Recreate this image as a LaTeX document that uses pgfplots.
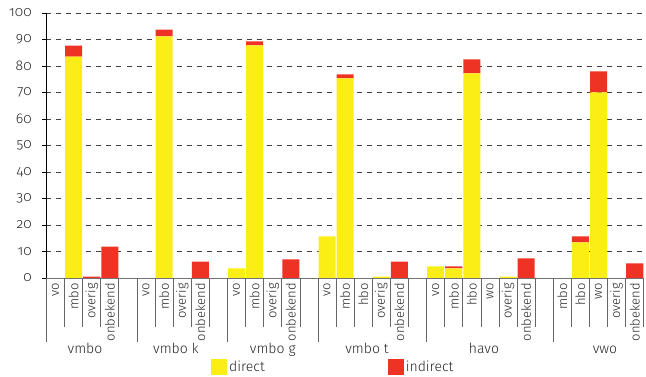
\documentclass[border=0pt]{standalone}
\usepackage{fontspec}
\setmainfont{Fira Sans Light}[Numbers=OldStyle]
\usepackage{pgfplots}
\pgfplotsset{compat=1.18}
\definecolor{myyellow}{RGB}{250,238,22}
\definecolor{myred}{RGB}{238,50,36}
\pgfplotstableread{
x direct indirect
0 0 0
1 83.5 4.2
2 0 0.5
3 0 11.8
5 0 0
6 91.2 2.5
7 0 0
8 0 6.2
10 3.6 0
11 87.8 1.5
12 0 0
13 0 7.0
15 15.7 0
16 75.3 1.5
17 0 0
18 0.5 0
19 0 6.2
21 4.4 0
22 3.6 0.8
23 77.2 5.3
24 0 0
25 0.5 0
26 0 7.4
28 0 0
29 13.4 2.3
30 70.0 8.0
31 0 0
32 0 5.5
}\datatable
\begin{document}
\fontsize{14}{16}\selectfont
\begin{tikzpicture}
\begin{axis}[
  scale only axis, width=597.3pt, height=265pt,
  at={(0,0)}, anchor=south west,
  xmin=-0.5, xmax=32.5, ymin=0, ymax=100,
  ybar stacked, bar width=0.94,
  axis lines*=left,
  y axis line style={black, line width=1.8pt},
  x axis line style={black!55, line width=0.8pt},
  ytick={0,10,...,100},
  ymajorgrids,
  grid style={black!75, dash pattern=on 5pt off 5pt, line width=0.7pt},
  ytick style={black, line width=0.7pt},
  major tick length=4pt, tick align=outside,
  yticklabel style={font=\fontsize{14}{16}\selectfont, text=black!85, xshift=-6pt},
  /pgf/number format/assume math mode=true,
  xtick={0,1,2,3,5,6,7,8,10,11,12,13,15,16,17,18,19,21,22,23,24,25,26,28,29,30,31,32},
  xticklabels={vo,mbo,overig,onbekend,vo,mbo,overig,onbekend,vo,mbo,overig,onbekend,vo,mbo,hbo,overig,onbekend,vo,mbo,hbo,wo,overig,onbekend,mbo,hbo,wo,overig,onbekend},
  xtick style={draw=none},
  xticklabel style={rotate=90, anchor=east, font=\fontsize{13}{15}\selectfont, text=black!85, inner sep=1pt, yshift=0pt},
  legend style={at={(0.2754,-0.305)}, anchor=north west, draw=none, fill=none, inner sep=0pt,
    font=\fontsize{14}{16}\selectfont, text=black!85,
    legend columns=2,
    /tikz/every even column/.append style={column sep=121pt},
    legend cell align=left},
  legend image code/.code={\fill[#1] (0pt,-8pt) rectangle (16pt,8pt);},
  clip=false,
]
\addplot[fill=myyellow, draw=none] table[x=x, y=direct] {\datatable};
\addlegendentry{direct}
\addplot[fill=myred, draw=none] table[x=x, y=indirect] {\datatable};
\addlegendentry{indirect}
\pgfplotsinvokeforeach{0.5,1.5,2.5,3.5,5.5,6.5,7.5,8.5,10.5,11.5,12.5,13.5,15.5,16.5,17.5,18.5,19.5,21.5,22.5,23.5,24.5,25.5,26.5,28.5,29.5,30.5,31.5,32.5}{
  \draw[black!60, line width=0.8pt] (axis cs:#1,0) -- ++(0pt,-49pt);
}
\pgfplotsinvokeforeach{-0.5,4.5,9.5,14.5,20.5,27.5}{
  \draw[black!60, line width=0.8pt] (axis cs:#1,0) -- ++(0pt,-64pt);
}
\node[text=black!85, anchor=base] at (axis cs:1.63,0) [yshift=-76pt] {vmbo};
\node[text=black!85, anchor=base] at (axis cs:6.65,0) [yshift=-76pt] {vmbo k};
\node[text=black!85, anchor=base] at (axis cs:12.0,0) [yshift=-76pt] {vmbo g};
\node[text=black!85, anchor=base] at (axis cs:17.21,0) [yshift=-76pt] {vmbo t};
\node[text=black!85, anchor=base] at (axis cs:23.67,0) [yshift=-76pt] {havo};
\node[text=black!85, anchor=base] at (axis cs:30.36,0) [yshift=-76pt] {vwo};
\end{axis}
\pgfresetboundingbox
\path[use as bounding box] (-46.5pt,-99pt) rectangle (599.5pt,278pt);
\end{tikzpicture}
\end{document}
